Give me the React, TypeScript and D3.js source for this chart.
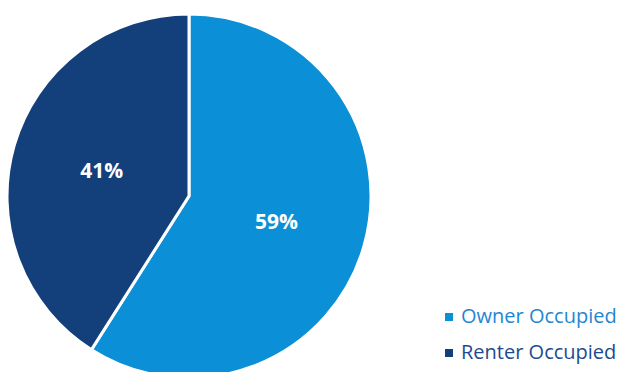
import React from "react";
import * as d3 from "d3";

const categories = ["Owner Occupied", "Renter Occupied"];
const values = [59, 41];
const labels = ["59%", "41%"];
const colors = ["#0b8fd6", "#133f7b"];
const legendTextColors = ["#1f87d0", "#1d4b8f"];

export default function App() {
  const W = 623, H = 372;
  const cx = 189, cy = 196, r = 182;
  const data = categories.map((c, i) => ({ c, v: values[i], label: labels[i], i }));
  const pie = d3.pie<any>().value((d) => d.v).sort(null);
  const arcs = pie(data);
  const arc = d3.arc<any>().innerRadius(0).outerRadius(r);
  const labelArc = d3.arc<any>().innerRadius(r * 0.5).outerRadius(r * 0.5);
  const font = "'Open Sans', 'Noto Sans', sans-serif";
  return (
    <svg width={W} height={H} style={{ position: "absolute", left: 0, top: 0, background: "#fff" }}>
      <g transform={`translate(${cx},${cy})`}>
        {arcs.map((a, k) => (
          <path key={k} d={arc(a) as string} fill={colors[a.data.i]} stroke="#fff" strokeWidth={3} strokeLinejoin="miter" />
        ))}
        {arcs.map((a, k) => {
          const [x, y] = labelArc.centroid(a);
          return (
            <text key={k} x={x} y={y} dy="0.35em" textAnchor="middle" fill="#fff" fontFamily={font} fontWeight={700} fontSize={21}>
              {a.data.label}
            </text>
          );
        })}
      </g>
      {categories.map((c, i) => (
        <g key={c} transform={`translate(445,${313 + i * 36})`}>
          <rect x={0} y={0} width={8} height={8} fill={colors[i]} />
          <text x={16} y={10} fill={legendTextColors[i]} fontFamily={font} fontWeight={500} fontSize={20}>{c}</text>
        </g>
      ))}
    </svg>
  );
}
